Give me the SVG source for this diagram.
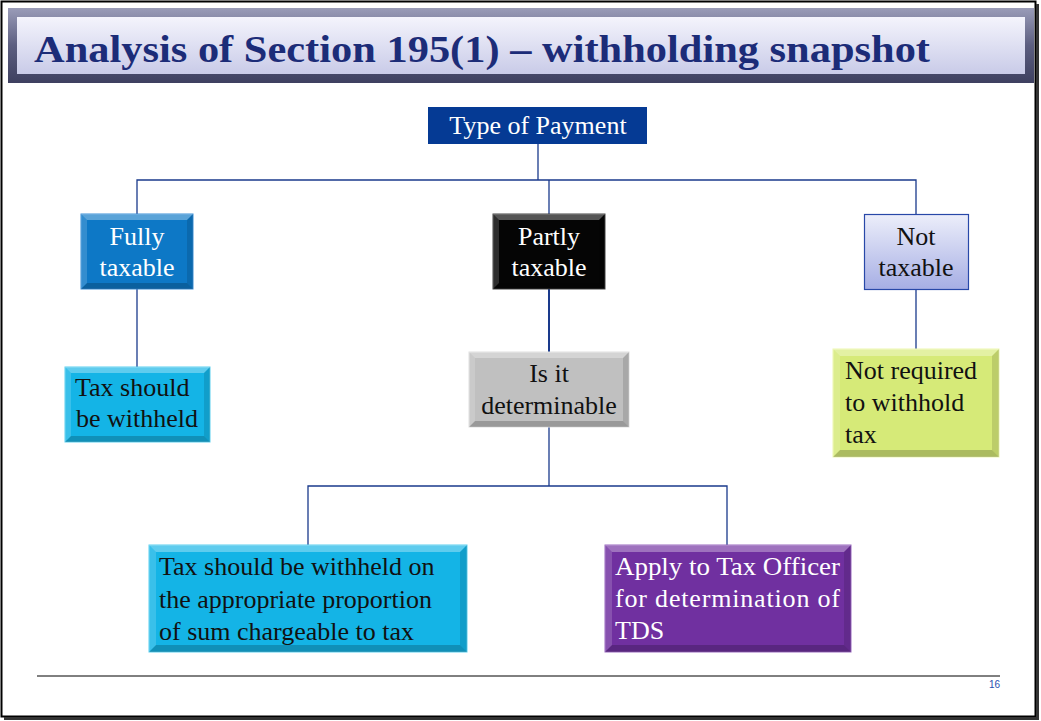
<svg xmlns="http://www.w3.org/2000/svg" width="1041" height="721" viewBox="0 0 1041 721">
<defs>
<style>
.w{fill:#ffffff}
.k{fill:#111111}
.c{stroke:#1a3a8c;stroke-width:1.3;fill:none}
.bt{fill:#ffffff;fill-opacity:0.32}
.bl{fill:#ffffff;fill-opacity:0.16}
.bb{fill:#000000;fill-opacity:0.2}
.br{fill:#000000;fill-opacity:0.12}
</style>
<linearGradient id="titleG" x1="0" y1="0" x2="0" y2="1">
<stop offset="0" stop-color="#f4f4fc"/>
<stop offset="1" stop-color="#c9cbe8"/>
</linearGradient>
<linearGradient id="frameG" x1="0" y1="0" x2="0" y2="1">
<stop offset="0" stop-color="#9a9cb8"/>
<stop offset="0.5" stop-color="#5c5e80"/>
<stop offset="1" stop-color="#3e4060"/>
</linearGradient>
<linearGradient id="notG" x1="0" y1="0" x2="0" y2="1">
<stop offset="0" stop-color="#eceefa"/>
<stop offset="1" stop-color="#a6aee4"/>
</linearGradient>
</defs>
<rect x="0" y="0" width="1041" height="721" fill="#ffffff"/>
<rect x="1.5" y="1.5" width="1034" height="715" fill="none" stroke="#000" stroke-width="2"/>
<line x1="1037.5" y1="4" x2="1037.5" y2="719" stroke="#333" stroke-width="3"/>
<line x1="4" y1="718.5" x2="1039" y2="718.5" stroke="#333" stroke-width="3"/>
<g id="title">
<rect x="8" y="8" width="1026" height="75" fill="url(#frameG)"/>
<rect x="17" y="17" width="1008" height="57" fill="url(#titleG)"/>
<text x="34" y="62" font-family="Liberation Serif, Times New Roman, serif" font-size="38" font-weight="bold" fill="#1c2c78" textLength="896" lengthAdjust="spacingAndGlyphs">Analysis of  Section 195(1) – withholding snapshot</text>
</g>
<g id="connectors">
<polyline class="c" points="538,144 538,180"/>
<polyline class="c" points="137,214 137,180 916,180 916,214"/>
<polyline class="c" points="549,180 549,214"/>
<polyline class="c" points="137,289 137,367"/>
<polyline class="c" points="549,289 549,352" style="stroke-width:2"/>
<polyline class="c" points="916,289 916,349"/>
<polyline class="c" points="549,427 549,486"/>
<polyline class="c" points="308,545 308,486 727,486 727,545"/>
</g>
<g id="type">
<rect x="428" y="107" width="219" height="37" fill="#053a94"/>
<text class="w" font-family="Liberation Serif, Times New Roman, serif" font-size="26" x="538" y="134" text-anchor="middle">Type of Payment</text>
</g>
<g id="fully">
<rect x="81" y="214" width="112" height="75" fill="#0d78c6" stroke="#3a8fd8" stroke-width="1"/>
<path class="bt" d="M81,214 H193 L187,220 H87 Z"/><path class="bb" d="M81,289 H193 L187,283 H87 Z"/><path class="bl" d="M81,214 L87,220 V283 L81,289 Z"/><path class="br" d="M193,214 L187,220 V283 L193,289 Z"/>
<text class="w" font-family="Liberation Serif, Times New Roman, serif" font-size="26" x="137" y="245" text-anchor="middle">Fully</text>
<text class="w" font-family="Liberation Serif, Times New Roman, serif" font-size="26" x="137" y="276" text-anchor="middle">taxable</text>
</g>
<g id="partly">
<rect x="493" y="214" width="112" height="75" fill="#050505" stroke="#444" stroke-width="1"/>
<path class="bt" d="M493,214 H605 L599,220 H499 Z"/><path class="bb" d="M493,289 H605 L599,283 H499 Z"/><path class="bl" d="M493,214 L499,220 V283 L493,289 Z"/><path class="br" d="M605,214 L599,220 V283 L605,289 Z"/>
<text class="w" font-family="Liberation Serif, Times New Roman, serif" font-size="26" x="549" y="245" text-anchor="middle">Partly</text>
<text class="w" font-family="Liberation Serif, Times New Roman, serif" font-size="26" x="549" y="276" text-anchor="middle">taxable</text>
</g>
<g id="not">
<rect x="864.5" y="214.5" width="104" height="75" fill="url(#notG)" stroke="#2848a8" stroke-width="1.2"/>
<text class="k" font-family="Liberation Serif, Times New Roman, serif" font-size="26" x="916" y="245" text-anchor="middle">Not</text>
<text class="k" font-family="Liberation Serif, Times New Roman, serif" font-size="26" x="916" y="276" text-anchor="middle">taxable</text>
</g>
<g id="withheld">
<rect x="65" y="367" width="145" height="75" fill="#14b4e6" stroke="#5ad0f0" stroke-width="1"/>
<path class="bt" d="M65,367 H210 L204,373 H71 Z"/><path class="bb" d="M65,442 H210 L204,436 H71 Z"/><path class="bl" d="M65,367 L71,373 V436 L65,442 Z"/><path class="br" d="M210,367 L204,373 V436 L210,442 Z"/>
<text class="k" font-family="Liberation Serif, Times New Roman, serif" font-size="26" x="75" y="396">Tax should</text>
<text class="k" font-family="Liberation Serif, Times New Roman, serif" font-size="26" x="76" y="427">be withheld</text>
</g>
<g id="determinable">
<rect x="469" y="352" width="160" height="75" fill="#c0c0c0" stroke="#e0e0e0" stroke-width="1"/>
<path class="bt" d="M469,352 H629 L623,358 H475 Z"/><path class="bb" d="M469,427 H629 L623,421 H475 Z"/><path class="bl" d="M469,352 L475,358 V421 L469,427 Z"/><path class="br" d="M629,352 L623,358 V421 L629,427 Z"/>
<text class="k" font-family="Liberation Serif, Times New Roman, serif" font-size="26" x="549" y="382" text-anchor="middle">Is it</text>
<text class="k" font-family="Liberation Serif, Times New Roman, serif" font-size="26" x="549" y="414" text-anchor="middle">determinable</text>
</g>
<g id="notrequired">
<rect x="833" y="349" width="166" height="108" fill="#d6ea78" stroke="#eef8b0" stroke-width="1"/>
<path class="bt" d="M833,349 H999 L992,356 H840 Z"/><path class="bb" d="M833,457 H999 L992,450 H840 Z"/><path class="bl" d="M833,349 L840,356 V450 L833,457 Z"/><path class="br" d="M999,349 L992,356 V450 L999,457 Z"/>
<text class="k" font-family="Liberation Serif, Times New Roman, serif" font-size="26" x="845" y="379">Not required</text>
<text class="k" font-family="Liberation Serif, Times New Roman, serif" font-size="26" x="845" y="411">to withhold</text>
<text class="k" font-family="Liberation Serif, Times New Roman, serif" font-size="26" x="845" y="443">tax</text>
</g>
<g id="proportion">
<rect x="149" y="545" width="318" height="107" fill="#14b4e6" stroke="#5ad0f0" stroke-width="1"/>
<path class="bt" d="M149,545 H467 L460,552 H156 Z"/><path class="bb" d="M149,652 H467 L460,645 H156 Z"/><path class="bl" d="M149,545 L156,552 V645 L149,652 Z"/><path class="br" d="M467,545 L460,552 V645 L467,652 Z"/>
<text class="k" font-family="Liberation Serif, Times New Roman, serif" font-size="26" x="159" y="575">Tax should be withheld on</text>
<text class="k" font-family="Liberation Serif, Times New Roman, serif" font-size="26" x="159" y="608">the appropriate proportion</text>
<text class="k" font-family="Liberation Serif, Times New Roman, serif" font-size="26" x="159" y="640">of  sum chargeable to tax</text>
</g>
<g id="apply">
<rect x="605" y="545" width="246" height="107" fill="#7030a0" stroke="#9a68c0" stroke-width="1"/>
<path class="bt" d="M605,545 H851 L844,552 H612 Z"/><path class="bb" d="M605,652 H851 L844,645 H612 Z"/><path class="bl" d="M605,545 L612,552 V645 L605,652 Z"/><path class="br" d="M851,545 L844,552 V645 L851,652 Z"/>
<text class="w" font-family="Liberation Serif, Times New Roman, serif" font-size="26" x="615" y="575" textLength="225" lengthAdjust="spacingAndGlyphs">Apply to Tax Officer</text>
<text class="w" font-family="Liberation Serif, Times New Roman, serif" font-size="26" x="615" y="607" textLength="225" lengthAdjust="spacing">for determination of</text>
<text class="w" font-family="Liberation Serif, Times New Roman, serif" font-size="26" x="615" y="639">TDS</text>
</g>
<g id="footer">
<line x1="37" y1="676" x2="1000" y2="676" stroke="#000" stroke-width="1"/>
<text x="1000" y="688" text-anchor="end" font-family="Liberation Sans, Arial, sans-serif" font-size="10" fill="#2a50b0">16</text>
</g>
</svg>
